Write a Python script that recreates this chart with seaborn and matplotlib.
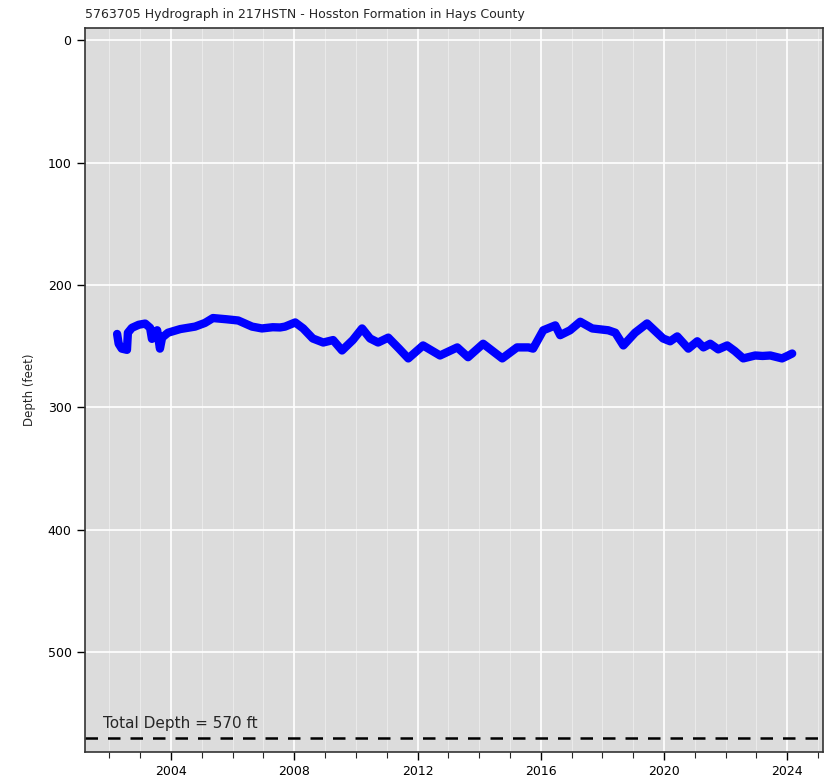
import numpy as np
import pandas as pd
import matplotlib
matplotlib.use("Agg")
import matplotlib.pyplot as plt
from matplotlib.ticker import MultipleLocator, FormatStrFormatter
import seaborn as sns

# water level record (decimal year, depth in feet)
years = [2002.25, 2002.3, 2002.4, 2002.57, 2002.6, 2002.73, 2002.95, 2003.16, 2003.32,
         2003.38, 2003.55, 2003.64, 2003.71, 2003.9, 2004.3, 2004.78, 2005.1, 2005.36,
         2005.8, 2006.18, 2006.63, 2006.95, 2007.3, 2007.54, 2007.7, 2008.03, 2008.29,
         2008.6, 2008.94, 2009.26, 2009.55, 2009.9, 2010.2, 2010.46, 2010.72, 2011.05,
         2011.4, 2011.7, 2012.18, 2012.73, 2013.29, 2013.64, 2014.13, 2014.75, 2015.23,
         2015.6, 2015.75, 2016.08, 2016.47, 2016.63, 2016.95, 2017.28, 2017.67, 2018.19,
         2018.42, 2018.68, 2019.06, 2019.45, 2019.97, 2020.2, 2020.43, 2020.79, 2021.08,
         2021.28, 2021.5, 2021.76, 2022.05, 2022.3, 2022.57, 2022.96, 2023.2, 2023.45,
         2023.83, 2024.0, 2024.16]
depths = [240, 248, 252, 253, 239, 235, 232.5, 231.5, 235,
          244, 237, 252, 243, 239, 236, 234, 231, 227,
          228, 229, 234, 235.5, 234.5, 234.7, 234, 230.6, 235.5,
          243.7, 247, 245, 253.5, 245, 235.5, 243.7, 247, 243,
          252, 260, 249.4, 257.6, 251, 259, 248, 260, 251,
          251, 252, 237, 233, 241, 237, 230, 235.5, 237,
          239, 249.4, 239, 231.4, 243.7, 246, 242, 252, 246,
          251, 248, 252.6, 249.4, 254, 260, 257.6, 258, 257.6,
          260, 258, 256]
total_depth = 570
title = "5763705 Hydrograph in 217HSTN - Hosston Formation in Hays County"

df = pd.DataFrame({"year": years, "depth": depths})

sns.set_style("darkgrid", {"axes.facecolor": "#dcdcdc", "axes.edgecolor": "black",
                           "grid.color": "white"})
plt.rcParams["font.family"] = ["DejaVu Sans"]

fig, ax = plt.subplots(figsize=(8.31, 7.82), dpi=100)
fig.subplots_adjust(left=0.102, right=0.99, top=0.964, bottom=0.038)

sns.lineplot(data=df, x="year", y="depth", ax=ax, color="blue", linewidth=6,
             solid_capstyle="round", solid_joinstyle="round")

ax.axhline(total_depth, color="black", linestyle=(0, (5, 4)), linewidth=1.8)
ax.text(2001.8, total_depth - 5, f"Total Depth = {total_depth} ft", fontsize=11,
        va="bottom", ha="left")

ax.set_xlim(2001.2, 2025.15)
ax.set_ylim(582, -10)
ax.xaxis.set_major_locator(MultipleLocator(4))
ax.xaxis.set_minor_locator(MultipleLocator(1))
ax.xaxis.set_major_formatter(FormatStrFormatter("%d"))
ax.yaxis.set_major_locator(MultipleLocator(100))
ax.grid(which="major", color="white", linewidth=1.2)
ax.grid(which="minor", axis="x", color="white", linewidth=0.6, alpha=0.5)

ax.tick_params(axis="both", which="major", direction="out", length=6, width=1,
               labelsize=9, bottom=True, left=True, colors="black")
ax.tick_params(axis="x", which="minor", direction="out", length=4, width=0.8, bottom=True)
for s in ax.spines.values():
    s.set_linewidth(1.2)
    s.set_color("#333333")

ax.set_xlabel("")
ax.set_ylabel("Depth (feet)", fontsize=8.5, labelpad=8)
ax.set_title(title, loc="left", fontsize=9, pad=7)

fig.savefig("out.png", dpi=100)
